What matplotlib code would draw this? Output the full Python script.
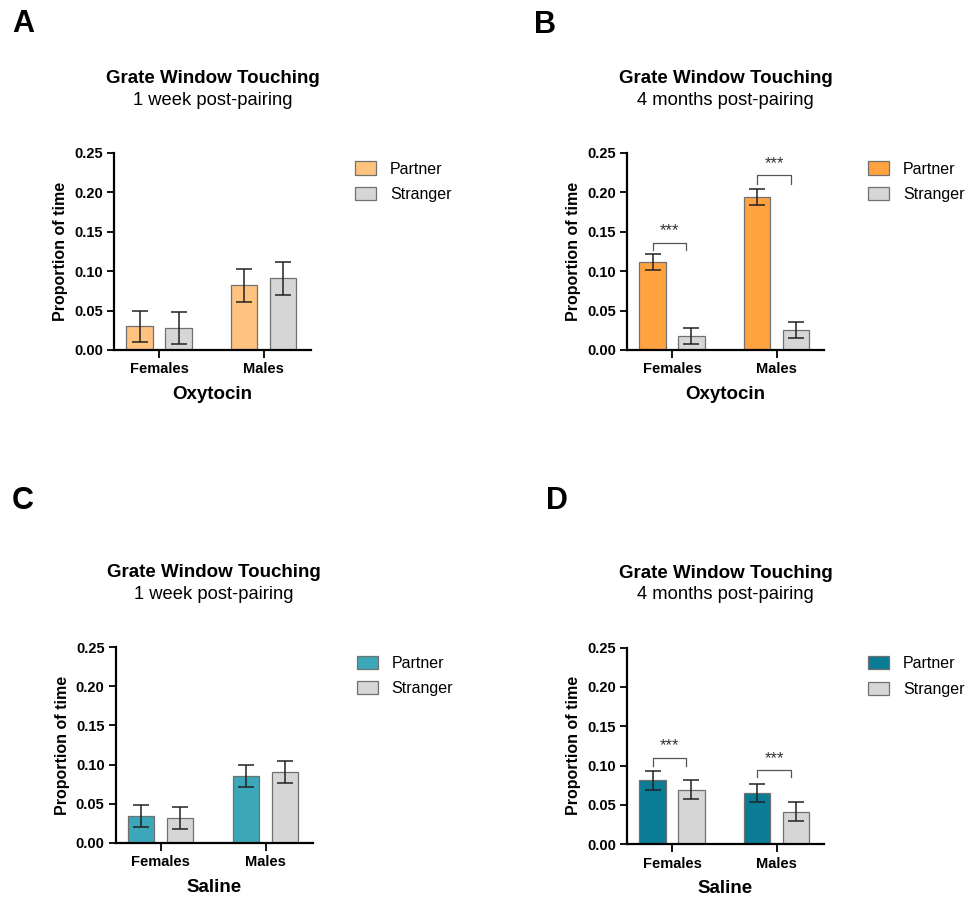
import numpy as np
import matplotlib
matplotlib.use("Agg")
import matplotlib.pyplot as plt

plt.rcParams["font.family"] = ["Liberation Sans", "DejaVu Sans"]

groups = ["Females", "Males"]
series = ["Partner", "Stranger"]

# panel A: oxytocin, 1 week
a_partner = [0.030, 0.082]
a_partner_err = [0.020, 0.021]
a_stranger = [0.028, 0.091]
a_stranger_err = [0.020, 0.021]

# panel B: oxytocin, 4 months
b_partner = [0.112, 0.194]
b_partner_err = [0.010, 0.010]
b_stranger = [0.018, 0.025]
b_stranger_err = [0.010, 0.010]

# panel C: saline, 1 week
c_partner = [0.034, 0.085]
c_partner_err = [0.014, 0.014]
c_stranger = [0.032, 0.090]
c_stranger_err = [0.014, 0.014]

# panel D: saline, 4 months
d_partner = [0.081, 0.065]
d_partner_err = [0.012, 0.012]
d_stranger = [0.069, 0.041]
d_stranger_err = [0.012, 0.012]

# significance brackets: (bracket height, leg bottom, label)
b_sig = [(0.136, 0.127, "***"), (0.222, 0.211, "***")]
d_sig = [(0.110, 0.100, "***"), (0.094, 0.085, "***")]

stranger_color = "#D6D6D6"

fig = plt.figure(figsize=(9.69, 8.99), dpi=100)

panels = [
    ("A", [0.1176, 0.6107, 0.2033, 0.2192], "1 week post-pairing", "Oxytocin",
     a_partner, a_partner_err, a_stranger, a_stranger_err, "#FFC27F", None),
    ("B", [0.6470, 0.6107, 0.2033, 0.2192], "4 months post-pairing", "Oxytocin",
     b_partner, b_partner_err, b_stranger, b_stranger_err, "#FFA23F", b_sig),
    ("C", [0.1194, 0.0623, 0.2033, 0.2180], "1 week post-pairing", "Saline",
     c_partner, c_partner_err, c_stranger, c_stranger_err, "#3BA7B8", None),
    ("D", [0.6470, 0.0610, 0.2033, 0.2186], "4 months post-pairing", "Saline",
     d_partner, d_partner_err, d_stranger, d_stranger_err, "#0A7C96", d_sig),
]

label_pos = {"A": (0.0237, 0.973), "B": (0.5624, 0.972), "C": (0.0237, 0.4427), "D": (0.5748, 0.4427)}

x = np.arange(len(groups))
off = 0.186
w = 0.25

for letter, rect, subtitle, xlab, p, pe, s, se, pcol, sig in panels:
    ax = fig.add_axes(rect)
    ax.bar(x - off, p, w, yerr=pe, color=pcol, edgecolor="#707070", linewidth=0.9,
           error_kw=dict(ecolor="#222222", elinewidth=1.1, capsize=6, capthick=1.1),
           label="Partner")
    ax.bar(x + off, s, w, yerr=se, color=stranger_color, edgecolor="#707070", linewidth=0.9,
           error_kw=dict(ecolor="#222222", elinewidth=1.1, capsize=6, capthick=1.1),
           label="Stranger")
    ax.set_xlim(-0.43, 1.45)
    ax.set_ylim(0, 0.25)
    ax.set_yticks([0, 0.05, 0.10, 0.15, 0.20, 0.25])
    ax.set_yticklabels(["0.00", "0.05", "0.10", "0.15", "0.20", "0.25"],
                       fontsize=10.5, fontweight="bold")
    ax.set_xticks(x)
    ax.set_xticklabels(groups, fontsize=10.5, fontweight="bold")
    ax.tick_params(axis="both", direction="out", length=5, width=1.3, pad=3)
    ax.tick_params(axis="x", length=6, pad=3)
    for sp in ["top", "right"]:
        ax.spines[sp].set_visible(False)
    for sp in ["left", "bottom"]:
        ax.spines[sp].set_linewidth(1.6)
    ax.set_ylabel("Proportion of time", fontsize=11.5, fontweight="bold", labelpad=4)
    ax.set_xlabel(xlab, fontsize=13.5, fontweight="bold", labelpad=7)

    ax.text(0.5, 1.378, "Grate Window Touching", transform=ax.transAxes,
            ha="center", va="center", fontsize=13.5, fontweight="bold")
    ax.text(0.5, 1.268, subtitle, transform=ax.transAxes,
            ha="center", va="center", fontsize=13.2)

    ax.legend(loc="upper left", bbox_to_anchor=(1.15, 1.03), frameon=False,
              fontsize=11.5, handlelength=1.35, handleheight=0.9,
              handletextpad=0.85, labelspacing=0.65)

    if sig:
        for i, (top, leg_bottom, lab) in enumerate(sig):
            x1 = x[i] - off
            x2 = x[i] + off - 0.05
            ax.plot([x1, x1, x2, x2], [leg_bottom, top, top, leg_bottom],
                    color="#555555", linewidth=0.9, clip_on=False)
            ax.text((x1 + x2) / 2, top + 0.015, lab, ha="center", va="center",
                    fontsize=12, color="#333333")

    lx, ly = label_pos[letter]
    fig.text(lx, ly, letter, fontsize=22, fontweight="bold", ha="center", va="center")

fig.savefig("out.png", dpi=100)
